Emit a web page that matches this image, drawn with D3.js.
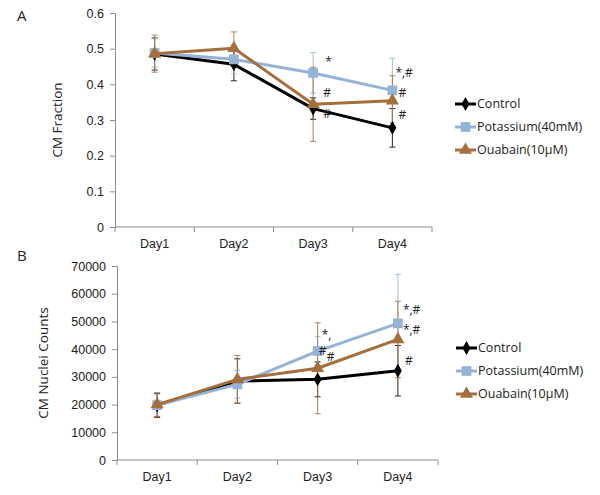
<!DOCTYPE html>
<html>
<head>
<meta charset="utf-8">
<script src="https://cdn.jsdelivr.net/npm/d3@7"></script>
<style>
  body { margin: 0; background: #fff; }
  svg { display: block; font-family: "Open Sans", sans-serif; }
</style>
</head>
<body>
<svg id="chart" width="600" height="495"></svg>
<script>
const days = ["Day1", "Day2", "Day3", "Day4"];
const seriesNames = ["Control", "Potassium(40mM)", "Ouabain(10μM)"];
const seriesColors = ["#000000", "#95b3d7", "#a46f3c"];
const seriesShapes = ["diamond", "square", "triangle"];

// Panel A: CM Fraction
const fracControl = [0.485, 0.456, 0.332, 0.278];
const fracPotassium = [0.488, 0.470, 0.432, 0.383];
const fracOuabain = [0.486, 0.501, 0.344, 0.354];
const fracControlErr = [0.045, 0.046, 0.030, 0.054];
const fracPotassiumErr = [0.040, 0.040, 0.057, 0.090];
const fracOuabainErr = [0.052, 0.046, 0.104, 0.070];
const fracTicks = [0, 0.1, 0.2, 0.3, 0.4, 0.5, 0.6];
const fracNotes = [
  { day: "Day3", v: 0.452, dx: 12, text: "*" },
  { day: "Day3", v: 0.365, dx: 10, text: "#" },
  { day: "Day3", v: 0.305, dx: 10, text: "#" },
  { day: "Day4", v: 0.420, dx: 3, text: "*,#" },
  { day: "Day4", v: 0.365, dx: 6, text: "#" },
  { day: "Day4", v: 0.304, dx: 6, text: "#" }
];

// Panel B: CM Nuclei Counts
const cntControl = [19700, 28500, 29100, 32200];
const cntPotassium = [19800, 27300, 39300, 49300];
const cntOuabain = [20000, 29100, 33100, 43500];
const cntControlErr = [4300, 8000, 6300, 9100];
const cntPotassiumErr = [4000, 5000, 5200, 17700];
const cntOuabainErr = [4300, 8600, 16400, 13800];
const cntTicks = [0, 10000, 20000, 30000, 40000, 50000, 60000, 70000];
const cntNotes = [
  { day: "Day3", v: 43500, dx: 4, text: "*," },
  { day: "Day3", v: 38000, dx: 1, text: "#" },
  { day: "Day3", v: 35600, dx: 9, text: "#" },
  { day: "Day4", v: 52700, dx: 5, text: "*,#" },
  { day: "Day4", v: 45500, dx: 5, text: "*,#" },
  { day: "Day4", v: 34400, dx: 7, text: "#" }
];

const svg = d3.select("#chart");
const axisColor = "#8c8c8c";

function symbolFor(shape) {
  if (shape === "diamond") return d3.symbol().type(d3.symbolDiamond).size(55);
  if (shape === "square") return d3.symbol().type(d3.symbolSquare).size(95);
  return d3.symbol().type(d3.symbolTriangle).size(75);
}

function drawPanel(cfg) {
  const g = svg.append("g");
  const x = d3.scaleBand().domain(days).range([cfg.x0, cfg.x1]).padding(0);
  const y = d3.scaleLinear().domain([cfg.ticks[0], cfg.ticks[cfg.ticks.length - 1]]).range([cfg.yBottom, cfg.yTop]);
  const cx = d => x(d) + x.bandwidth() / 2;

  // y axis
  const yAxis = g.append("g").attr("transform", `translate(${cfg.x0},0)`)
    .call(d3.axisLeft(y).tickValues(cfg.ticks).tickSize(5).tickPadding(6).tickFormat(cfg.fmt));
  yAxis.select(".domain").attr("stroke", axisColor);
  yAxis.selectAll(".tick line").attr("stroke", axisColor);
  yAxis.selectAll("text").attr("fill", "#222").style("font-size", "12.5px");

  // x axis
  const xAxis = g.append("g").attr("transform", `translate(0,${cfg.yBottom})`)
    .call(d3.axisBottom(x).tickSize(0).tickPadding(12));
  xAxis.select(".domain").attr("stroke", axisColor).attr("d", `M${cfg.x0},0H${cfg.x1}`);
  xAxis.selectAll("text").attr("fill", "#222").style("font-size", "12.5px");
  // boundary ticks
  const bounds = days.map(d => x(d)).concat([cfg.x1]);
  g.selectAll(".bt").data(bounds).enter().append("line")
    .attr("x1", d => d).attr("x2", d => d)
    .attr("y1", cfg.yBottom).attr("y2", cfg.yBottom + 5)
    .attr("stroke", axisColor);

  // y title
  g.append("text")
    .attr("transform", `translate(${cfg.titleX},${(cfg.yTop + cfg.yBottom) / 2}) rotate(-90)`)
    .attr("text-anchor", "middle")
    .style("font-size", "13.5px")
    .attr("fill", "#222")
    .text(cfg.title);

  // panel label
  g.append("text").attr("x", 17).attr("y", cfg.labelY)
    .style("font-size", "15px").attr("fill", "#222").text(cfg.label);

  // error bars
  cfg.series.forEach((vals, i) => {
    const errs = cfg.errs[i];
    vals.forEach((v, j) => {
      const px = cx(days[j]);
      const top = y(v + errs[j]), bot = y(v - errs[j]);
      const eg = g.append("g").attr("stroke", seriesColors[i]).attr("stroke-width", 1).attr("opacity", 0.85);
      eg.append("line").attr("x1", px).attr("x2", px).attr("y1", top).attr("y2", bot);
      eg.append("line").attr("x1", px - 3).attr("x2", px + 3).attr("y1", top).attr("y2", top);
      eg.append("line").attr("x1", px - 3).attr("x2", px + 3).attr("y1", bot).attr("y2", bot);
    });
  });

  // lines and markers
  const line = d3.line().x((d, j) => cx(days[j])).y(d => y(d));
  cfg.series.forEach((vals, i) => {
    g.append("path").datum(vals).attr("d", line)
      .attr("fill", "none").attr("stroke", seriesColors[i]).attr("stroke-width", 3)
      .attr("stroke-linejoin", "round");
    g.selectAll(null).data(vals).enter().append("path")
      .attr("d", symbolFor(seriesShapes[i]))
      .attr("transform", (d, j) => `translate(${cx(days[j])},${y(d)})`)
      .attr("fill", seriesColors[i]);
  });

  // annotations
  cfg.notes.forEach(n => {
    g.append("text").attr("x", cx(n.day) + n.dx).attr("y", y(n.v))
      .style("font-size", "12px").attr("fill", "#222").text(n.text);
  });

  // legend
  const lg = g.append("g");
  seriesNames.forEach((name, i) => {
    const ly = cfg.legendY + i * cfg.legendGap;
    lg.append("line").attr("x1", cfg.legendX).attr("x2", cfg.legendX + 21)
      .attr("y1", ly).attr("y2", ly).attr("stroke", seriesColors[i]).attr("stroke-width", 3);
    lg.append("path").attr("d", symbolFor(seriesShapes[i]))
      .attr("transform", `translate(${cfg.legendX + 10.5},${ly})`).attr("fill", seriesColors[i]);
    lg.append("text").attr("x", cfg.legendX + 22).attr("y", ly).attr("dy", "0.35em")
      .style("font-size", "12.5px").attr("fill", "#222").text(name);
  });
}

drawPanel({
  x0: 115, x1: 432, yTop: 13, yBottom: 227,
  ticks: fracTicks, fmt: d => d === 0 ? "0" : d3.format(".1f")(d),
  series: [fracControl, fracPotassium, fracOuabain],
  errs: [fracControlErr, fracPotassiumErr, fracOuabainErr],
  notes: fracNotes,
  title: "CM Fraction", titleX: 62, label: "A", labelY: 21,
  legendX: 455, legendY: 104, legendGap: 23
});

drawPanel({
  x0: 117, x1: 438, yTop: 266, yBottom: 460,
  ticks: cntTicks, fmt: d3.format("d"),
  series: [cntControl, cntPotassium, cntOuabain],
  errs: [cntControlErr, cntPotassiumErr, cntOuabainErr],
  notes: cntNotes,
  title: "CM Nuclei Counts", titleX: 48, label: "B", labelY: 261,
  legendX: 456, legendY: 348, legendGap: 23
});
</script>
</body>
</html>
